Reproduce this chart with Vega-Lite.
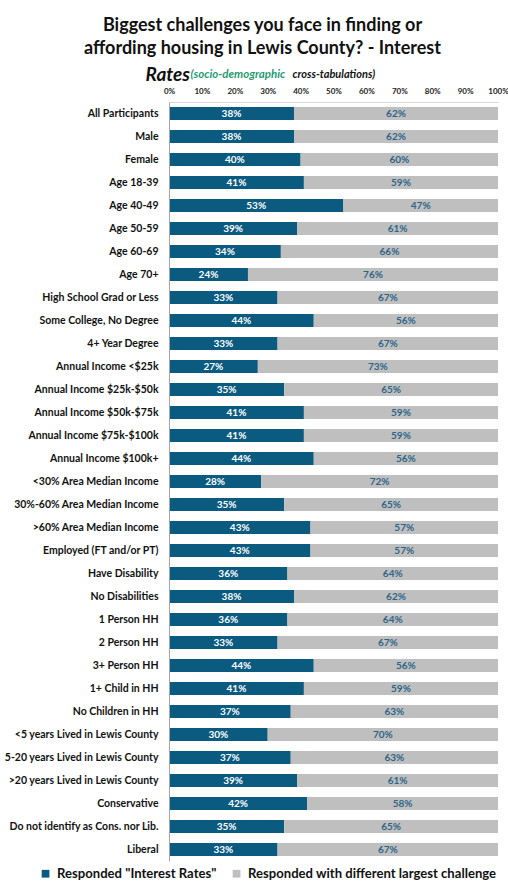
{
  "$schema": "https://vega.github.io/schema/vega-lite/v6.json",
  "width": 329,
  "height": 759,
  "autosize": {"type": "none"},
  "padding": {"left": 169, "top": 102, "right": 10, "bottom": 21},
  "background": "white",
  "title": {
    "text": ["Biggest challenges you face in finding or", "affording housing in Lewis County? - Interest"],
    "font": "Lato",
    "fontSize": 18,
    "fontWeight": "bold",
    "color": "#111111",
    "anchor": "middle",
    "dx": -71,
    "offset": 7,
    "lineHeight": 23
  },
  "data": {
    "values": [
      {"group": "All Participants", "category": "Responded \"Interest Rates\"", "value": 0.38},
      {"group": "All Participants", "category": "Responded with different largest challenge", "value": 0.62},
      {"group": "Male", "category": "Responded \"Interest Rates\"", "value": 0.38},
      {"group": "Male", "category": "Responded with different largest challenge", "value": 0.62},
      {"group": "Female", "category": "Responded \"Interest Rates\"", "value": 0.40},
      {"group": "Female", "category": "Responded with different largest challenge", "value": 0.60},
      {"group": "Age 18-39", "category": "Responded \"Interest Rates\"", "value": 0.41},
      {"group": "Age 18-39", "category": "Responded with different largest challenge", "value": 0.59},
      {"group": "Age 40-49", "category": "Responded \"Interest Rates\"", "value": 0.53},
      {"group": "Age 40-49", "category": "Responded with different largest challenge", "value": 0.47},
      {"group": "Age 50-59", "category": "Responded \"Interest Rates\"", "value": 0.39},
      {"group": "Age 50-59", "category": "Responded with different largest challenge", "value": 0.61},
      {"group": "Age 60-69", "category": "Responded \"Interest Rates\"", "value": 0.34},
      {"group": "Age 60-69", "category": "Responded with different largest challenge", "value": 0.66},
      {"group": "Age 70+", "category": "Responded \"Interest Rates\"", "value": 0.24},
      {"group": "Age 70+", "category": "Responded with different largest challenge", "value": 0.76},
      {"group": "High School Grad or Less", "category": "Responded \"Interest Rates\"", "value": 0.33},
      {"group": "High School Grad or Less", "category": "Responded with different largest challenge", "value": 0.67},
      {"group": "Some College, No Degree", "category": "Responded \"Interest Rates\"", "value": 0.44},
      {"group": "Some College, No Degree", "category": "Responded with different largest challenge", "value": 0.56},
      {"group": "4+ Year Degree", "category": "Responded \"Interest Rates\"", "value": 0.33},
      {"group": "4+ Year Degree", "category": "Responded with different largest challenge", "value": 0.67},
      {"group": "Annual Income <$25k", "category": "Responded \"Interest Rates\"", "value": 0.27},
      {"group": "Annual Income <$25k", "category": "Responded with different largest challenge", "value": 0.73},
      {"group": "Annual Income $25k-$50k", "category": "Responded \"Interest Rates\"", "value": 0.35},
      {"group": "Annual Income $25k-$50k", "category": "Responded with different largest challenge", "value": 0.65},
      {"group": "Annual Income $50k-$75k", "category": "Responded \"Interest Rates\"", "value": 0.41},
      {"group": "Annual Income $50k-$75k", "category": "Responded with different largest challenge", "value": 0.59},
      {"group": "Annual Income $75k-$100k", "category": "Responded \"Interest Rates\"", "value": 0.41},
      {"group": "Annual Income $75k-$100k", "category": "Responded with different largest challenge", "value": 0.59},
      {"group": "Annual Income $100k+", "category": "Responded \"Interest Rates\"", "value": 0.44},
      {"group": "Annual Income $100k+", "category": "Responded with different largest challenge", "value": 0.56},
      {"group": "<30% Area Median Income", "category": "Responded \"Interest Rates\"", "value": 0.28},
      {"group": "<30% Area Median Income", "category": "Responded with different largest challenge", "value": 0.72},
      {"group": "30%-60% Area Median Income", "category": "Responded \"Interest Rates\"", "value": 0.35},
      {"group": "30%-60% Area Median Income", "category": "Responded with different largest challenge", "value": 0.65},
      {"group": ">60% Area Median Income", "category": "Responded \"Interest Rates\"", "value": 0.43},
      {"group": ">60% Area Median Income", "category": "Responded with different largest challenge", "value": 0.57},
      {"group": "Employed (FT and/or PT)", "category": "Responded \"Interest Rates\"", "value": 0.43},
      {"group": "Employed (FT and/or PT)", "category": "Responded with different largest challenge", "value": 0.57},
      {"group": "Have Disability", "category": "Responded \"Interest Rates\"", "value": 0.36},
      {"group": "Have Disability", "category": "Responded with different largest challenge", "value": 0.64},
      {"group": "No Disabilities", "category": "Responded \"Interest Rates\"", "value": 0.38},
      {"group": "No Disabilities", "category": "Responded with different largest challenge", "value": 0.62},
      {"group": "1 Person HH", "category": "Responded \"Interest Rates\"", "value": 0.36},
      {"group": "1 Person HH", "category": "Responded with different largest challenge", "value": 0.64},
      {"group": "2 Person HH", "category": "Responded \"Interest Rates\"", "value": 0.33},
      {"group": "2 Person HH", "category": "Responded with different largest challenge", "value": 0.67},
      {"group": "3+ Person HH", "category": "Responded \"Interest Rates\"", "value": 0.44},
      {"group": "3+ Person HH", "category": "Responded with different largest challenge", "value": 0.56},
      {"group": "1+ Child in HH", "category": "Responded \"Interest Rates\"", "value": 0.41},
      {"group": "1+ Child in HH", "category": "Responded with different largest challenge", "value": 0.59},
      {"group": "No Children in HH", "category": "Responded \"Interest Rates\"", "value": 0.37},
      {"group": "No Children in HH", "category": "Responded with different largest challenge", "value": 0.63},
      {"group": "<5 years Lived in Lewis County", "category": "Responded \"Interest Rates\"", "value": 0.30},
      {"group": "<5 years Lived in Lewis County", "category": "Responded with different largest challenge", "value": 0.70},
      {"group": "5-20 years Lived in Lewis County", "category": "Responded \"Interest Rates\"", "value": 0.37},
      {"group": "5-20 years Lived in Lewis County", "category": "Responded with different largest challenge", "value": 0.63},
      {"group": ">20 years Lived in Lewis County", "category": "Responded \"Interest Rates\"", "value": 0.39},
      {"group": ">20 years Lived in Lewis County", "category": "Responded with different largest challenge", "value": 0.61},
      {"group": "Conservative", "category": "Responded \"Interest Rates\"", "value": 0.42},
      {"group": "Conservative", "category": "Responded with different largest challenge", "value": 0.58},
      {"group": "Do not identify as Cons. nor Lib.", "category": "Responded \"Interest Rates\"", "value": 0.35},
      {"group": "Do not identify as Cons. nor Lib.", "category": "Responded with different largest challenge", "value": 0.65},
      {"group": "Liberal", "category": "Responded \"Interest Rates\"", "value": 0.33},
      {"group": "Liberal", "category": "Responded with different largest challenge", "value": 0.67}
    ]
  },
  "encoding": {
    "y": {
      "field": "group",
      "type": "nominal",
      "sort": null,
      "scale": {
        "domain": ["All Participants", "Male", "Female", "Age 18-39", "Age 40-49", "Age 50-59", "Age 60-69", "Age 70+", "High School Grad or Less", "Some College, No Degree", "4+ Year Degree", "Annual Income <$25k", "Annual Income $25k-$50k", "Annual Income $50k-$75k", "Annual Income $75k-$100k", "Annual Income $100k+", "<30% Area Median Income", "30%-60% Area Median Income", ">60% Area Median Income", "Employed (FT and/or PT)", "Have Disability", "No Disabilities", "1 Person HH", "2 Person HH", "3+ Person HH", "1+ Child in HH", "No Children in HH", "<5 years Lived in Lewis County", "5-20 years Lived in Lewis County", ">20 years Lived in Lewis County", "Conservative", "Do not identify as Cons. nor Lib.", "Liberal"],
        "paddingInner": 0.435,
        "paddingOuter": 0.2175
      }
    }
  },
  "layer": [
    {
      "mark": {"type": "bar"},
      "encoding": {
        "y": {
          "field": "group",
          "type": "nominal",
          "sort": null,
          "axis": {
            "orient": "left",
            "title": "(socio-demographic",
            "titleAngle": 0,
            "titleX": 21,
            "titleY": -25,
            "titleAlign": "left",
            "titleBaseline": "alphabetic",
            "titleFont": "Lato",
            "titleFontSize": 11.5,
            "titleFontStyle": "italic",
            "titleFontWeight": "bold",
            "titleColor": "#1f9b72",
            "labelFont": "Lato",
            "labelFontSize": 10.5,
            "labelFontWeight": "bold",
            "labelColor": "#111111",
            "labelPadding": 11,
            "labelLimit": 200,
            "ticks": false,
            "grid": false,
            "domain": true,
            "domainColor": "#a6a6a6",
            "domainWidth": 1,
            "zindex": 1
          }
        },
        "x": {
          "field": "value",
          "type": "quantitative",
          "stack": "zero",
          "scale": {"domain": [0, 1], "nice": false},
          "axis": {
            "orient": "top",
            "format": ".0%",
            "values": [0, 0.1, 0.2, 0.3, 0.4, 0.5, 0.6, 0.7, 0.8, 0.9, 1],
            "labelFlush": false,
            "labelFont": "Lato",
            "labelFontSize": 8,
            "labelFontWeight": "bold",
            "labelColor": "#222222",
            "labelPadding": 7,
            "ticks": false,
            "grid": false,
            "domain": true,
            "domainColor": "#d9d9d9",
            "title": "Rates",
            "titleFont": "Lato",
            "titleFontSize": 19,
            "titleFontStyle": "italic",
            "titleFontWeight": "bold",
            "titleColor": "#111111",
            "titleX": -24,
            "titleY": -22,
            "titleAlign": "left",
            "titleBaseline": "alphabetic",
            "titleAngle": 0
          }
        },
        "color": {
          "field": "category",
          "type": "nominal",
          "scale": {
            "domain": ["Responded \"Interest Rates\"", "Responded with different largest challenge"],
            "range": ["#0b5a80", "#bfbfbf"]
          },
          "legend": {
            "orient": "none",
            "direction": "horizontal",
            "legendX": -130,
            "legendY": 765,
            "title": null,
            "symbolType": "square",
            "symbolSize": 60,
            "symbolStrokeWidth": 0,
            "labelFont": "Lato",
            "labelFontSize": 13.1,
            "labelFontWeight": "bold",
            "labelColor": "#111111",
            "labelLimit": 400,
            "columnPadding": 13,
            "labelOffset": 5
          }
        },
        "order": {"field": "category", "type": "nominal", "sort": "ascending"}
      }
    },
    {
      "transform": [
        {"stack": "value", "groupby": ["group"], "sort": [{"field": "category", "order": "ascending"}], "as": ["v0", "v1"]},
        {"fold": ["v0", "v1"], "as": ["edge", "pos"]},
        {"aggregate": [{"op": "mean", "field": "pos", "as": "mid"}, {"op": "max", "field": "value", "as": "value"}], "groupby": ["group", "category"]}
      ],
      "mark": {"type": "text", "font": "Lato", "fontSize": 10, "fontWeight": "bold", "baseline": "middle", "align": "center"},
      "encoding": {
        "y": {
          "field": "group",
          "type": "nominal",
          "sort": null,
          "axis": {
            "orient": "right",
            "labels": false,
            "ticks": false,
            "domain": false,
            "grid": false,
            "title": "cross-tabulations)",
            "titleAngle": 0,
            "titleX": -206,
            "titleY": -25,
            "titleAlign": "left",
            "titleBaseline": "alphabetic",
            "titleFont": "Lato",
            "titleFontSize": 11,
            "titleFontStyle": "italic",
            "titleFontWeight": "bold",
            "titleColor": "#111111"
          }
        },
        "x": {
          "field": "mid",
          "type": "quantitative",
          "scale": {"domain": [0, 1], "nice": false},
          "axis": {
            "orient": "top",
            "format": ".0%",
            "values": [0, 0.1, 0.2, 0.3, 0.4, 0.5, 0.6, 0.7, 0.8, 0.9, 1],
            "labelFlush": false,
            "labelFont": "Lato",
            "labelFontSize": 8,
            "labelFontWeight": "bold",
            "labelColor": "#222222",
            "labelPadding": 7,
            "ticks": false,
            "grid": false,
            "domain": true,
            "domainColor": "#d9d9d9",
            "title": "Rates",
            "titleFont": "Lato",
            "titleFontSize": 19,
            "titleFontStyle": "italic",
            "titleFontWeight": "bold",
            "titleColor": "#111111",
            "titleX": -24,
            "titleY": -22,
            "titleAlign": "left",
            "titleBaseline": "alphabetic",
            "titleAngle": 0
          }
        },
        "text": {"field": "value", "type": "quantitative", "format": ".0%"},
        "color": {
          "condition": {"test": "indexof(datum.category, 'Interest') >= 0", "value": "#ffffff"},
          "value": "#2d6588"
        }
      }
    }
  ],
  "resolve": {"axis": {"y": "independent"}},
  "config": {
    "font": "Lato",
    "view": {"stroke": null}
  }
}
